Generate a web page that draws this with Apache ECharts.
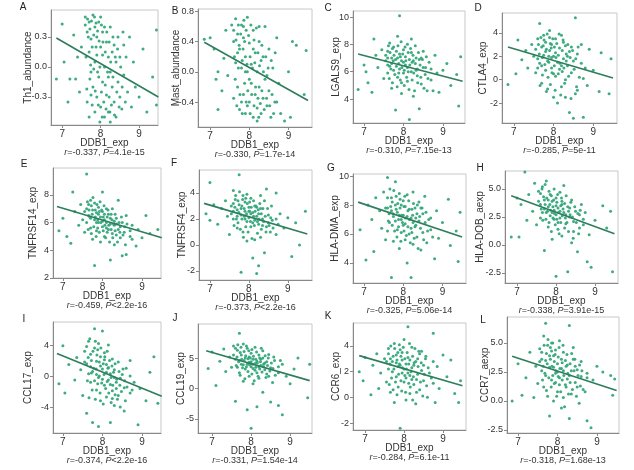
<!DOCTYPE html>
<html>
<head>
<meta charset="utf-8">
<script src="https://cdn.jsdelivr.net/npm/echarts@6/dist/echarts.min.js"></script>
<style>
body{margin:0;background:#fff}
#main{width:634px;height:470px}
</style>
</head>
<body>
<div id="main"></div>
<script>
// panel labels and axis names
var letters = ['A','B','C','D','E','F','G','H','I','J','K','L'];
var yNames = ['Th1_abundance','Mast_abundance','LGALS9_exp','CTLA4_exp','TNFRSF14_exp','TNFRSF4_exp',
    'HLA-DMA_exp','HLA-DOB_aexp','CCL17_exp','CCL19_exp','CCR6_exp','CCR7_aexp'];
var xName = 'DDB1_exp';
var rValues = ['-0.337','-0.330','-0.310','-0.285','-0.459','-0.373','-0.325','-0.338','-0.374','-0.331','-0.284','-0.318'];
var pValues = ['=4.1e-15','=1.7e-14','=7.15e-13','=5e-11','<2.2e-16','<2.2e-16','=5.06e-14','=3.91e-15','<2.2e-16','=1.54e-14','=6.1e-11','=1.68e-13'];

// tick labels
var xTicks = ['7','8','9'];
var yTicks = [
    ['-0.3','0.0','0.3'],
    ['-0.4','0.0','0.4','0.8'],
    ['4','6','8','10'],
    ['-2','0','2','4'],
    ['2','4','6','8'],
    ['-2','0','2','4'],
    ['4','6','8','10'],
    ['-2.5','0.0','2.5','5.0'],
    ['-4','0','4'],
    ['-5','0','5'],
    ['-2','0','2','4'],
    ['-2.5','0.0','2.5','5.0']
];

// scatter values: spread points and the dense core
var th1 = [[6.85,-0.12],[7.0,0.43],[7.05,0.05],[7.15,-0.35],[7.2,-0.12],[7.3,0.32],[7.35,-0.12],[7.4,0.1],[7.45,-0.25],[7.5,0.2],
    [7.6,0.5],[7.65,0.35],[7.7,0.45],[7.7,0.15],[7.75,-0.05],[7.75,0.28],[7.8,0.52],[7.8,-0.2],[7.85,0.4],[7.85,0.05],
    [7.9,0.3],[7.9,-0.3],[7.95,0.45],[7.95,-0.1],[8.0,0.2],[8.0,-0.4],[8.05,0.35],[8.05,-0.15],[8.1,0.0],[8.1,-0.5],
    [8.15,0.25],[8.15,-0.28],[8.2,0.1],[8.2,-0.45],[8.25,0.4],[8.25,-0.05],[8.3,-0.2],[8.3,0.15],[8.35,-0.35],[8.4,0.05],
    [8.4,-0.5],[8.45,0.3],[8.45,-0.15],[8.5,-0.3],[8.5,0.1],[8.55,-0.42],[8.6,0.22],[8.6,-0.08],[8.7,-0.25],[8.75,0.3],
    [8.8,-0.4],[8.85,0.05],[8.9,-0.2],[9.0,-0.3],[9.1,0.18],[9.2,-0.45],[9.35,-0.1],[9.45,0.37],[9.45,-0.38],[7.65,-0.35],
    [7.7,-0.5],[7.85,-0.45],[8.0,0.5],[8.1,0.4],[7.9,0.12],[8.05,0.12],[8.2,-0.1],[8.35,0.22],[7.75,-0.28],[8.25,-0.55]];
var th1Core = [[7.6,0.42],[7.62,0.1],[7.64,-0.22],[7.66,0.48],[7.68,0.3],[7.72,0.38],[7.72,-0.12],[7.74,0.02],[7.76,0.46],[7.78,0.2],
    [7.78,-0.38],[7.82,0.32],[7.82,-0.02],[7.84,0.5],[7.86,-0.24],[7.88,0.2],[7.88,0.44],[7.92,-0.05],[7.92,0.36],[7.94,-0.38],
    [7.96,0.26],[7.98,0.0],[8.02,-0.25],[8.02,0.42],[8.04,-0.5],[8.06,0.25],[8.08,-0.35],[8.12,0.15],[8.12,-0.18],[8.14,-0.42],
    [8.16,0.35],[8.18,-0.05],[8.22,-0.3],[8.22,0.25],[8.24,-0.45],[8.26,0.05],[8.28,-0.38],[8.32,0.3],[8.32,-0.1],[8.36,-0.48],
    [8.38,0.1],[8.42,-0.25],[8.44,0.18],[8.48,-0.4],[8.52,0.0],[8.56,-0.2],[8.58,0.35],[8.64,-0.35],[8.66,0.1],[7.98,-0.55]];
var mast = [[6.85,0.43],[7.0,0.45],[7.1,0.3],[7.15,-0.1],[7.2,0.0],[7.2,-0.5],[7.3,-0.25],[7.35,0.18],[7.4,0.55],[7.45,-0.05],
    [7.55,0.62],[7.6,0.4],[7.6,-0.35],[7.65,0.7],[7.65,0.12],[7.7,0.5],[7.7,-0.2],[7.75,0.3],[7.75,-0.5],[7.8,0.62],
    [7.8,0.05],[7.85,0.45],[7.85,-0.3],[7.9,0.2],[7.9,-0.55],[7.95,0.72],[7.95,0.0],[8.0,0.38],[8.0,-0.4],[8.05,0.1],
    [8.05,-0.15],[8.1,0.55],[8.1,-0.6],[8.15,0.25],[8.15,-0.3],[8.2,0.0],[8.2,-0.48],[8.25,0.4],[8.25,-0.2],[8.3,-0.55],
    [8.3,0.15],[8.35,-0.35],[8.4,0.6],[8.4,-0.1],[8.45,-0.45],[8.5,0.3],[8.5,-0.25],[8.55,-0.6],[8.6,0.05],[8.65,-0.4],
    [8.7,0.45],[8.75,-0.15],[8.8,-0.55],[8.9,-0.65],[9.0,0.0],[9.05,-0.6],[9.1,0.4],[9.2,0.35],[9.4,-0.3],[9.45,0.28],
    [7.7,0.25],[7.85,0.6],[8.0,-0.1],[8.1,0.3],[8.2,-0.65],[8.35,0.2],[7.95,-0.45],[8.45,-0.05],[7.8,-0.4],[8.25,0.6]];
var mastCore = [[7.6,0.55],[7.62,0.2],[7.64,-0.1],[7.66,0.42],[7.68,-0.45],[7.72,0.62],[7.72,0.05],[7.74,0.35],[7.76,-0.3],[7.78,0.5],
    [7.82,0.15],[7.82,-0.55],[7.84,0.3],[7.86,0.68],[7.88,-0.15],[7.88,0.4],[7.92,0.55],[7.92,-0.4],[7.94,0.1],[7.96,-0.25],
    [7.98,0.48],[8.02,0.2],[8.02,-0.55],[8.04,0.62],[8.06,-0.3],[8.08,0.05],[8.12,-0.45],[8.12,0.42],[8.14,0.12],[8.16,-0.2],
    [8.18,0.58],[8.22,-0.35],[8.22,0.25],[8.24,-0.6],[8.26,0.08],[8.28,-0.42],[8.32,0.35],[8.32,-0.25],[8.36,0.0],[8.38,-0.5],
    [8.42,0.2],[8.44,-0.35],[8.48,0.05],[8.52,-0.45],[8.56,0.15],[8.58,-0.3],[8.62,-0.55],[8.66,0.25],[8.7,-0.4],[7.9,0.0]];
var lgals9 = [[6.85,4.7],[7.0,6.5],[7.05,6.0],[7.1,5.2],[7.2,4.5],[7.25,8.4],[7.3,7.2],[7.35,6.3],[7.45,7.6],[7.5,5.5],
    [7.55,6.8],[7.6,7.5],[7.6,5.9],[7.65,8.1],[7.65,6.4],[7.7,7.0],[7.7,4.8],[7.75,7.8],[7.75,6.1],[7.8,6.9],
    [7.8,3.2],[7.85,8.6],[7.85,5.6],[7.9,10.1],[7.9,7.3],[7.9,6.2],[7.95,6.8],[7.95,4.4],[8.0,7.6],[8.0,5.9],
    [8.05,7.1],[8.05,6.5],[8.1,8.0],[8.1,5.3],[8.15,6.9],[8.15,2.5],[8.2,7.4],[8.2,6.0],[8.25,4.2],[8.3,6.6],
    [8.3,7.9],[8.35,5.7],[8.4,3.3],[8.4,6.9],[8.45,5.1],[8.5,6.3],[8.5,7.5],[8.55,5.8],[8.6,4.6],[8.65,6.7],
    [8.7,5.4],[8.8,7.2],[8.85,5.9],[8.9,4.5],[9.0,6.1],[9.1,6.6],[9.2,5.0],[9.35,5.8],[9.4,3.5],[9.45,7.1],
    [7.7,6.6],[7.85,7.0],[8.0,6.7],[8.1,6.3],[8.25,6.8],[7.95,5.2],[8.35,6.2],[7.6,7.0],[8.2,8.4],[8.45,7.0]];
var lgals9Core = [[7.55,7.2],[7.6,6.5],[7.62,7.9],[7.64,5.5],[7.66,7.4],[7.68,6.2],[7.72,7.7],[7.72,5.2],[7.74,6.8],[7.76,7.2],
    [7.78,5.8],[7.82,7.5],[7.82,6.4],[7.84,4.9],[7.86,7.9],[7.88,6.6],[7.88,5.9],[7.92,7.1],[7.92,5.4],[7.94,8.2],
    [7.96,6.3],[7.98,7.3],[8.02,6.1],[8.02,5.0],[8.04,7.8],[8.06,6.8],[8.08,5.6],[8.12,7.4],[8.12,6.0],[8.14,4.7],
    [8.16,6.5],[8.18,7.7],[8.22,5.4],[8.22,6.7],[8.24,7.2],[8.26,5.9],[8.28,4.6],[8.32,7.0],[8.32,6.1],[8.36,5.2],
    [8.38,7.4],[8.42,6.5],[8.44,5.6],[8.48,6.9],[8.52,4.8],[8.56,6.3],[8.58,7.1],[8.62,5.5],[8.7,6.2],[8.75,4.6]];
var ctla4 = [[6.85,-0.4],[7.05,0.5],[7.1,3.4],[7.2,1.7],[7.3,2.5],[7.35,1.0],[7.45,3.0],[7.5,2.0],[7.55,0.6],[7.6,3.5],
    [7.65,4.8],[7.65,1.4],[7.7,2.8],[7.7,-0.3],[7.75,3.8],[7.75,2.1],[7.8,0.8],[7.8,3.2],[7.85,1.6],[7.85,-0.8],
    [7.9,2.5],[7.9,4.2],[7.95,1.0],[7.95,3.0],[8.0,2.0],[8.0,-1.5],[8.05,3.5],[8.05,0.3],[8.1,1.5],[8.1,-2.0],
    [8.15,2.7],[8.15,0.9],[8.2,3.8],[8.2,-0.6],[8.25,1.8],[8.3,2.9],[8.3,0.0],[8.35,1.2],[8.4,-2.8],[8.4,2.4],
    [8.45,0.6],[8.5,-3.3],[8.5,1.6],[8.55,5.3],[8.55,-1.2],[8.6,2.2],[8.65,0.2],[8.7,3.0],[8.75,-3.2],[8.8,1.0],
    [8.85,-0.5],[8.9,2.6],[9.0,0.8],[9.15,-1.0],[9.2,2.3],[9.4,-1.2],[9.45,1.8],[7.6,1.8],[7.8,2.4],[7.95,1.9],
    [8.05,2.3],[8.25,3.2],[8.35,2.0],[7.7,1.2],[8.45,2.8],[8.0,0.5],[8.2,1.2],[7.9,3.6],[8.6,-0.9],[8.3,-1.5]];
var ctla4Core = [[7.55,2.6],[7.6,1.0],[7.62,3.0],[7.64,2.2],[7.66,-0.5],[7.68,3.6],[7.72,1.9],[7.72,0.4],[7.74,2.9],[7.76,3.4],
    [7.78,1.3],[7.82,2.6],[7.82,-1.0],[7.84,3.9],[7.86,0.2],[7.88,2.0],[7.88,1.5],[7.92,3.1],[7.92,-0.4],[7.94,2.7],
    [7.96,0.6],[7.98,3.5],[8.02,1.2],[8.02,2.8],[8.04,-0.9],[8.06,1.9],[8.08,3.1],[8.12,0.5],[8.12,2.1],[8.14,3.9],
    [8.16,1.4],[8.18,-1.3],[8.22,2.5],[8.22,0.7],[8.24,3.4],[8.26,1.0],[8.28,-0.3],[8.32,2.2],[8.32,1.6],[8.36,3.0],
    [8.38,0.3],[8.42,1.9],[8.44,-1.6],[8.48,2.5],[8.52,0.9],[8.56,1.8],[8.58,-0.6],[8.62,2.8],[8.7,1.4],[8.75,0.1]];
var tnfrsf14 = [[6.9,5.4],[7.0,6.3],[7.1,5.0],[7.2,4.5],[7.25,8.2],[7.3,6.8],[7.4,5.8],[7.45,7.3],[7.5,6.2],[7.55,5.3],
    [7.6,9.5],[7.6,7.0],[7.65,6.5],[7.7,7.6],[7.7,5.6],[7.75,6.9],[7.75,4.8],[7.8,7.4],[7.8,6.2],[7.8,2.9],
    [7.85,6.7],[7.85,5.4],[7.9,7.1],[7.9,6.0],[7.95,6.4],[7.95,4.6],[8.0,8.2],[8.0,6.8],[8.0,5.7],[8.05,6.2],
    [8.05,5.0],[8.1,7.0],[8.1,6.0],[8.15,5.5],[8.15,6.6],[8.2,3.3],[8.2,6.3],[8.25,5.2],[8.25,7.0],[8.3,5.8],
    [8.3,4.4],[8.35,6.3],[8.4,5.5],[8.4,7.6],[8.45,4.9],[8.5,3.6],[8.5,6.0],[8.55,5.3],[8.6,3.7],[8.6,6.5],
    [8.7,5.0],[8.75,5.8],[8.85,4.3],[8.9,5.5],[9.0,4.9],[9.1,6.5],[9.2,5.2],[9.4,5.5],[9.5,2.4],[7.7,6.3],
    [7.9,6.6],[8.0,6.1],[8.1,5.6],[8.2,5.9],[8.3,6.1],[8.35,5.1],[7.85,6.0],[8.05,6.6],[7.65,7.3],[8.45,5.7]];
var tnfrsf14Core = [[7.55,6.8],[7.6,6.0],[7.62,7.5],[7.64,5.5],[7.66,6.9],[7.68,6.4],[7.72,7.2],[7.72,5.2],[7.74,6.6],[7.76,7.8],
    [7.78,5.7],[7.82,6.9],[7.82,6.4],[7.84,5.0],[7.86,7.3],[7.88,6.2],[7.88,5.6],[7.92,6.8],[7.92,5.3],[7.94,7.5],
    [7.96,6.0],[7.98,6.9],[8.02,5.4],[8.02,6.4],[8.04,7.2],[8.06,5.8],[8.08,4.9],[8.12,6.4],[8.12,5.3],[8.14,6.9],
    [8.16,5.8],[8.18,4.6],[8.22,6.6],[8.22,5.5],[8.24,6.2],[8.26,4.9],[8.28,5.9],[8.32,6.6],[8.32,5.4],[8.36,5.9],
    [8.38,4.6],[8.42,6.0],[8.44,5.3],[8.48,6.4],[8.52,5.1],[8.56,5.7],[8.58,4.4],[8.62,5.9],[8.7,5.4],[8.75,4.8]];
var tnfrsf4 = [[6.9,2.4],[7.0,4.8],[7.0,1.9],[7.1,3.1],[7.2,1.6],[7.3,2.8],[7.4,3.4],[7.45,2.2],[7.5,0.8],[7.55,3.0],
    [7.6,4.2],[7.6,2.0],[7.65,3.5],[7.7,1.3],[7.7,2.7],[7.75,5.4],[7.75,3.1],[7.8,-2.1],[7.8,2.3],[7.85,3.8],
    [7.85,1.0],[7.9,2.6],[7.9,3.3],[7.95,1.8],[7.95,0.3],[8.0,2.9],[8.0,2.1],[8.05,3.6],[8.05,1.4],[8.1,-1.0],
    [8.1,2.5],[8.15,1.9],[8.15,3.0],[8.2,-2.2],[8.2,2.2],[8.25,-1.6],[8.25,1.6],[8.3,2.8],[8.3,0.6],[8.35,2.0],
    [8.4,-0.6],[8.4,3.4],[8.45,4.3],[8.45,1.4],[8.5,2.3],[8.55,1.0],[8.6,1.9],[8.7,4.0],[8.7,0.8],[8.8,2.4],
    [8.9,1.3],[9.0,2.1],[9.1,-0.9],[9.2,1.7],[9.3,0.0],[9.45,2.6],[7.7,2.2],[7.9,2.0],[8.0,2.6],[8.1,1.7],
    [8.2,2.9],[8.35,1.5],[7.8,2.8],[8.05,2.4],[8.25,2.4],[7.6,2.6],[8.5,1.7],[7.95,3.9],[8.3,3.8],[8.15,0.4]];
var tnfrsf4Core = [[7.55,2.4],[7.6,3.2],[7.62,1.5],[7.64,2.9],[7.66,3.8],[7.68,2.0],[7.72,3.4],[7.72,1.7],[7.74,2.5],[7.76,4.1],
    [7.78,1.2],[7.82,3.0],[7.82,2.0],[7.84,3.5],[7.86,0.6],[7.88,2.8],[7.88,2.2],[7.92,3.6],[7.92,1.4],[7.94,2.4],
    [7.96,3.2],[7.98,1.0],[8.02,2.6],[8.02,3.3],[8.04,1.8],[8.06,2.9],[8.08,0.5],[8.12,2.2],[8.12,3.4],[8.14,1.5],
    [8.16,2.6],[8.18,3.0],[8.22,1.8],[8.22,0.9],[8.24,2.7],[8.26,2.0],[8.28,3.2],[8.32,1.2],[8.32,2.4],[8.36,2.8],
    [8.38,1.8],[8.42,2.2],[8.44,1.0],[8.48,2.8],[8.52,1.5],[8.56,2.1],[8.58,3.0],[8.62,1.3],[8.7,2.0],[8.75,1.6]];
var hladma = [[6.9,6.3],[7.05,4.2],[7.1,8.0],[7.2,7.0],[7.25,4.8],[7.3,8.5],[7.4,7.6],[7.45,6.4],[7.5,8.9],[7.55,5.6],
    [7.6,9.9],[7.6,7.8],[7.65,6.8],[7.7,8.5],[7.7,3.0],[7.75,7.2],[7.75,5.5],[7.8,9.6],[7.8,8.0],[7.85,6.3],
    [7.85,7.5],[7.9,8.8],[7.9,5.0],[7.95,7.0],[7.95,6.1],[8.0,8.3],[8.0,7.3],[8.05,5.6],[8.05,6.7],[8.1,8.7],
    [8.1,4.0],[8.15,7.7],[8.15,6.0],[8.2,3.0],[8.2,7.1],[8.25,8.9],[8.25,5.3],[8.3,6.5],[8.3,7.8],[8.35,5.8],
    [8.4,8.2],[8.4,6.9],[8.45,4.9],[8.5,7.4],[8.5,6.1],[8.55,8.6],[8.6,5.4],[8.65,7.0],[8.7,6.3],[8.8,4.3],
    [8.85,7.6],[8.9,5.7],[9.0,6.8],[9.15,8.4],[9.2,5.2],[9.35,6.2],[9.4,4.1],[9.45,7.5],[7.7,7.6],[7.9,7.3],
    [8.0,6.6],[8.1,7.2],[8.2,6.4],[8.35,7.4],[7.8,6.9],[8.05,7.9],[8.25,6.8],[7.6,6.2],[8.45,7.8],[7.95,8.0]];
var hladmaCore = [[7.55,7.8],[7.6,8.5],[7.62,6.9],[7.64,7.4],[7.66,9.1],[7.68,7.9],[7.72,6.6],[7.72,8.2],[7.74,7.4],[7.76,9.0],
    [7.78,6.2],[7.82,7.7],[7.82,8.6],[7.84,5.8],[7.86,8.1],[7.88,7.0],[7.88,6.5],[7.92,7.8],[7.92,8.4],[7.94,5.5],
    [7.96,7.3],[7.98,6.8],[8.02,7.9],[8.02,6.2],[8.04,8.6],[8.06,7.1],[8.08,5.9],[8.12,7.6],[8.12,6.5],[8.14,8.3],
    [8.16,7.0],[8.18,5.4],[8.22,7.7],[8.22,6.1],[8.24,7.3],[8.26,8.1],[8.28,5.7],[8.32,7.1],[8.32,6.6],[8.36,8.0],
    [8.38,5.0],[8.42,7.2],[8.44,6.4],[8.48,7.8],[8.52,5.6],[8.56,6.8],[8.58,7.5],[8.62,6.2],[8.7,7.1],[8.75,5.8]];
var hladob = [[6.85,0.7],[7.0,4.2],[7.05,0.7],[7.1,3.6],[7.2,6.5],[7.25,2.2],[7.3,4.5],[7.4,3.0],[7.45,5.5],[7.5,1.8],
    [7.55,4.8],[7.6,3.6],[7.6,2.4],[7.65,5.2],[7.7,-0.5],[7.7,4.0],[7.75,2.9],[7.75,5.7],[7.8,3.4],[7.8,1.6],
    [7.85,4.5],[7.85,2.6],[7.9,3.9],[7.9,0.5],[7.95,3.1],[7.95,5.0],[8.0,-2.8],[8.0,2.7],[8.0,4.2],[8.05,3.3],
    [8.05,1.4],[8.1,2.4],[8.1,4.7],[8.15,3.6],[8.15,0.8],[8.2,2.9],[8.2,5.3],[8.25,1.9],[8.3,-2.4],[8.3,3.4],
    [8.35,2.5],[8.4,0.2],[8.4,4.0],[8.45,2.1],[8.5,3.0],[8.55,-0.6],[8.6,1.5],[8.65,3.6],[8.7,2.3],[8.8,-1.5],
    [8.85,0.9],[8.9,-2.0],[9.0,2.2],[9.2,3.5],[9.3,1.5],[9.4,3.0],[9.45,-2.4],[7.7,3.2],[7.9,2.9],[8.0,3.5],
    [8.1,3.0],[8.25,2.7],[7.8,4.0],[8.05,2.0],[8.35,3.3],[7.65,2.9],[8.45,1.2],[8.15,3.9],[7.95,2.3],[8.6,2.7]];
var hladobCore = [[7.55,3.9],[7.6,4.6],[7.62,3.2],[7.64,5.0],[7.66,2.2],[7.68,4.3],[7.72,3.6],[7.72,5.4],[7.74,2.3],[7.76,4.2],
    [7.78,3.0],[7.82,4.8],[7.82,2.0],[7.84,3.6],[7.86,3.1],[7.88,4.4],[7.88,1.2],[7.92,3.4],[7.92,2.4],[7.94,4.0],
    [7.96,2.8],[7.98,1.8],[8.02,3.8],[8.02,2.3],[8.04,4.5],[8.06,2.9],[8.08,1.0],[8.12,3.5],[8.12,2.0],[8.14,4.2],
    [8.16,2.6],[8.18,3.2],[8.22,1.5],[8.22,3.7],[8.24,2.4],[8.26,4.4],[8.28,2.0],[8.32,3.0],[8.32,1.2],[8.36,2.7],
    [8.38,3.8],[8.42,2.5],[8.44,0.6],[8.48,3.4],[8.52,2.0],[8.56,2.8],[8.58,1.0],[8.62,3.1],[8.7,1.8],[8.75,2.9]];
var ccl17 = [[6.9,-1.0],[7.0,3.9],[7.05,-2.2],[7.15,1.5],[7.3,-0.5],[7.35,2.4],[7.45,0.8],[7.5,-2.5],[7.55,3.2],[7.6,-4.8],
    [7.6,1.6],[7.65,4.5],[7.7,-0.8],[7.7,2.8],[7.75,-6.0],[7.75,0.6],[7.8,6.1],[7.8,3.6],[7.85,-1.8],[7.85,1.9],
    [7.9,-6.5],[7.9,4.2],[7.9,-0.2],[7.95,2.5],[7.95,-3.2],[8.0,5.8],[8.0,0.9],[8.05,-1.2],[8.05,3.0],[8.1,-2.7],
    [8.1,1.5],[8.15,-0.5],[8.15,4.0],[8.2,-6.0],[8.2,0.3],[8.25,-1.9],[8.25,2.2],[8.3,-3.8],[8.3,0.8],[8.35,-0.8],
    [8.4,1.8],[8.4,-2.5],[8.45,-4.0],[8.5,0.2],[8.55,-4.5],[8.55,-1.5],[8.6,1.0],[8.7,2.0],[8.7,-2.2],[8.8,-0.8],
    [8.9,-6.3],[8.95,-1.6],[9.1,-3.2],[9.2,0.5],[9.3,2.5],[9.4,-3.5],[7.7,1.2],[7.85,0.2],[8.0,-0.4],[8.1,0.5],
    [8.2,-1.1],[8.3,-0.2],[7.95,1.3],[8.15,1.1],[7.8,-0.6],[8.35,-1.6],[8.05,2.1],[7.65,0.3],[8.45,-0.3],[8.25,-2.9]];
var ccl17Core = [[7.55,1.8],[7.6,3.8],[7.62,-0.6],[7.64,2.4],[7.66,-2.8],[7.68,4.8],[7.72,0.4],[7.72,2.0],[7.74,-1.8],[7.76,3.2],
    [7.78,1.0],[7.82,-3.0],[7.82,4.5],[7.84,0.9],[7.86,2.7],[7.88,-1.0],[7.88,3.4],[7.92,0.0],[7.92,1.8],[7.94,-2.2],
    [7.96,3.6],[7.98,-0.9],[8.02,1.6],[8.02,-3.6],[8.04,0.2],[8.06,2.5],[8.08,-1.6],[8.12,3.2],[8.12,-0.7],[8.14,1.0],
    [8.16,-2.2],[8.18,2.0],[8.22,-0.2],[8.22,-3.4],[8.24,1.3],[8.26,-1.2],[8.28,0.5],[8.32,-2.4],[8.32,1.6],[8.36,-0.4],
    [8.38,-3.0],[8.42,0.6],[8.44,-1.2],[8.48,-2.0],[8.52,0.9],[8.56,-0.6],[8.58,-3.2],[8.62,-1.4],[8.7,0.0],[8.75,-1.8]];
var ccl19 = [[6.9,3.3],[7.0,6.0],[7.1,0.5],[7.2,4.5],[7.3,6.5],[7.35,2.8],[7.45,5.2],[7.5,3.5],[7.55,7.0],[7.6,-2.1],
    [7.6,4.8],[7.65,6.3],[7.7,9.1],[7.7,2.6],[7.75,5.5],[7.75,4.0],[7.8,7.3],[7.8,1.2],[7.85,5.0],[7.85,3.2],
    [7.9,-3.5],[7.9,6.6],[7.95,4.3],[7.95,2.0],[8.0,-6.5],[8.0,5.8],[8.0,3.6],[8.05,4.8],[8.05,0.8],[8.1,6.8],
    [8.1,3.0],[8.15,-3.0],[8.15,4.5],[8.2,5.5],[8.2,1.7],[8.25,3.8],[8.3,6.2],[8.3,-0.6],[8.35,4.2],[8.4,2.4],
    [8.45,5.6],[8.5,-2.2],[8.5,3.4],[8.55,1.0],[8.6,4.6],[8.7,-2.8],[8.7,2.6],[8.8,-4.3],[8.8,4.0],[8.9,2.0],
    [9.0,0.8],[9.1,3.2],[9.2,5.0],[9.45,-1.5],[9.5,4.0],[7.7,4.6],[7.9,4.0],[8.0,4.4],[8.1,4.1],[8.2,3.6],
    [8.25,4.8],[8.35,3.1],[7.8,3.9],[8.05,3.3],[7.95,5.2],[8.15,2.6],[8.4,4.4],[7.65,3.5],[8.45,2.0],[8.3,5.0]];
var ccl19Core = [[7.55,5.5],[7.6,6.6],[7.62,3.8],[7.64,5.2],[7.66,7.2],[7.68,4.4],[7.72,5.9],[7.72,2.2],[7.74,6.8],[7.76,4.8],
    [7.78,3.4],[7.82,6.1],[7.82,4.6],[7.84,1.6],[7.86,5.4],[7.88,3.6],[7.88,7.0],[7.92,4.9],[7.92,2.8],[7.94,6.2],
    [7.96,3.9],[7.98,5.0],[8.02,2.4],[8.02,6.4],[8.04,4.0],[8.06,5.3],[8.08,1.3],[8.12,4.8],[8.12,3.5],[8.14,6.0],
    [8.16,4.2],[8.18,2.0],[8.22,5.0],[8.22,3.2],[8.24,4.4],[8.26,6.6],[8.28,2.7],[8.32,4.0],[8.32,3.6],[8.36,5.4],
    [8.38,1.8],[8.42,3.8],[8.44,5.0],[8.48,2.9],[8.52,4.2],[8.56,3.3],[8.58,5.2],[8.62,2.2],[8.7,3.6],[8.75,4.6]];
var ccr6 = [[6.85,2.0],[6.95,1.3],[7.0,3.1],[7.15,0.2],[7.2,2.5],[7.3,3.4],[7.35,0.7],[7.4,1.9],[7.5,3.0],[7.55,1.2],
    [7.6,3.8],[7.6,2.2],[7.65,0.4],[7.7,2.8],[7.75,-0.4],[7.75,4.2],[7.8,1.6],[7.8,3.3],[7.85,2.4],[7.85,0.8],
    [7.9,-2.4],[7.9,3.7],[7.95,1.9],[7.95,2.9],[8.0,4.5],[8.0,1.2],[8.05,2.6],[8.05,-0.2],[8.1,5.5],[8.1,3.1],
    [8.15,1.7],[8.15,0.3],[8.2,2.3],[8.2,3.9],[8.25,1.0],[8.3,2.8],[8.3,-0.5],[8.35,1.8],[8.4,3.4],[8.4,0.6],
    [8.45,2.1],[8.5,1.3],[8.55,3.0],[8.6,0.0],[8.65,1.9],[8.75,5.0],[8.75,1.1],[8.8,-0.4],[8.85,2.4],[8.9,0.7],
    [9.0,3.3],[9.1,1.6],[9.2,2.9],[9.3,0.3],[9.4,-0.4],[9.45,1.3],[7.7,2.0],[7.9,2.5],[8.0,2.2],[8.1,1.9],
    [8.25,2.5],[8.35,3.0],[7.8,2.7],[8.05,1.5],[8.2,1.4],[7.65,3.0],[8.45,3.6],[7.95,3.5],[8.5,2.5],[8.15,2.9]];
var ccr6Core = [[7.55,2.8],[7.6,3.4],[7.62,1.0],[7.64,2.6],[7.66,4.0],[7.68,1.5],[7.72,3.2],[7.72,0.6],[7.74,2.2],[7.76,3.8],
    [7.78,1.2],[7.82,2.9],[7.82,0.2],[7.84,3.5],[7.86,1.8],[7.88,4.1],[7.88,2.6],[7.92,1.3],[7.92,3.2],[7.94,0.5],
    [7.96,2.3],[7.98,3.9],[8.02,1.7],[8.02,3.0],[8.04,0.4],[8.06,2.2],[8.08,3.5],[8.12,1.1],[8.12,2.6],[8.14,4.2],
    [8.16,0.8],[8.18,2.0],[8.22,3.2],[8.22,-0.2],[8.24,1.6],[8.26,2.7],[8.28,3.8],[8.32,1.4],[8.32,0.4],[8.36,2.4],
    [8.38,3.6],[8.42,1.2],[8.44,2.7],[8.48,0.1],[8.52,1.8],[8.56,3.2],[8.58,0.9],[8.62,2.3],[8.7,1.5],[8.75,2.8]];
var ccr7 = [[6.85,0.0],[7.0,3.2],[7.1,0.5],[7.2,2.0],[7.3,4.2],[7.4,0.3],[7.45,3.0],[7.5,1.5],[7.55,4.5],[7.6,2.6],
    [7.65,5.6],[7.65,1.2],[7.7,6.7],[7.7,3.5],[7.75,0.4],[7.75,4.8],[7.8,-1.3],[7.8,2.9],[7.85,5.0],[7.85,1.8],
    [7.9,3.9],[7.9,0.0],[7.95,2.4],[7.95,4.4],[8.0,3.2],[8.0,0.8],[8.05,5.2],[8.05,2.0],[8.1,3.6],[8.1,-0.6],
    [8.15,2.6],[8.15,4.2],[8.2,1.4],[8.25,3.1],[8.3,6.5],[8.3,-1.5],[8.3,2.2],[8.35,0.6],[8.4,3.6],[8.45,1.6],
    [8.5,2.7],[8.55,-0.2],[8.6,3.4],[8.65,1.0],[8.75,-1.7],[8.75,2.4],[8.85,-2.3],[8.9,1.8],[9.0,3.0],[9.15,2.5],
    [9.35,2.2],[9.4,0.5],[9.45,1.9],[7.7,2.2],[7.9,2.9],[8.0,2.5],[8.1,2.8],[8.2,3.5],[8.35,2.6],[7.8,3.9],
    [8.05,1.4],[8.25,1.9],[7.6,3.6],[8.45,3.0],[7.95,1.6],[8.15,0.3],[8.5,1.2],[7.85,4.3],[8.4,4.6],[8.6,2.1]];
var ccr7Core = [[7.55,3.4],[7.6,4.2],[7.62,1.8],[7.64,3.0],[7.66,4.8],[7.68,2.4],[7.72,4.1],[7.72,0.9],[7.74,3.2],[7.76,5.3],
    [7.78,2.0],[7.82,3.6],[7.82,4.6],[7.84,1.2],[7.86,3.0],[7.88,2.2],[7.88,5.0],[7.92,3.4],[7.92,1.5],[7.94,4.0],
    [7.96,2.6],[7.98,0.4],[8.02,3.8],[8.02,2.1],[8.04,4.6],[8.06,2.8],[8.08,0.8],[8.12,3.3],[8.12,1.8],[8.14,4.8],
    [8.16,2.2],[8.18,-0.5],[8.22,3.0],[8.22,1.2],[8.24,4.0],[8.26,2.4],[8.28,0.6],[8.32,3.2],[8.32,1.6],[8.36,4.1],
    [8.38,1.0],[8.42,2.6],[8.44,3.6],[8.48,0.4],[8.52,2.2],[8.56,3.1],[8.58,1.3],[8.62,2.6],[8.7,0.8],[8.75,2.0]];

var points = [th1.concat(th1Core), mast.concat(mastCore), lgals9.concat(lgals9Core), ctla4.concat(ctla4Core),
    tnfrsf14.concat(tnfrsf14Core), tnfrsf4.concat(tnfrsf4Core), hladma.concat(hladmaCore), hladob.concat(hladobCore),
    ccl17.concat(ccl17Core), ccl19.concat(ccl19Core), ccr6.concat(ccr6Core), ccr7.concat(ccr7Core)];

// fitted line end points
var fits = [
    [[6.85,0.29],[9.5,-0.30]],
    [[6.85,0.39],[9.5,-0.38]],
    [[6.85,7.3],[9.5,5.3]],
    [[6.85,2.8],[9.5,0.15]],
    [[6.85,7.15],[9.5,4.9]],
    [[6.85,3.2],[9.5,0.85]],
    [[6.85,8.2],[9.5,5.8]],
    [[6.85,4.4],[9.5,1.0]],
    [[6.85,2.9],[9.5,-2.6]],
    [[6.85,6.2],[9.5,1.3]],
    [[6.85,3.25],[9.5,0.9]],
    [[6.85,3.85],[9.5,0.9]]
];

// layout: [left, top, width, height] of each plot box
var boxes = [[51,10,107,115],[198,9,114,118],[353,11,112,112],[502,13,115,110],
    [53,168,108,110],[199,170,113,110],[353,174,113,109],[505,171,113,112],
    [53,322,108,111],[198,324,114,109],[353,323,113,107],[507,317,112,116]];
var xRanges = [[6.71,9.49],[6.69,9.6],[6.72,9.56],[6.7,9.6],[6.75,9.48],[6.72,9.62],
    [6.72,9.6],[6.69,9.59],[6.75,9.48],[6.64,9.56],[6.69,9.59],[6.72,9.56]];
var yRanges = [[-0.58,0.57],[-0.73,0.83],[2.25,10.44],[-3.7,5.7],[2,9.93],[-2.7,5.77],
    [2.62,10.14],[-3.4,6.6],[-7.35,6.97],[-7.3,10.6],[-2.54,5.79],[-2.76,7.24]];
var yNameGaps = [18,17,12,14,15,12,13,20,20,12,12,17];
var letterPos = [[23,7],[175,11],[328,8],[478,8],[24,164],[174,163],[331,168],[480,168],[24,319],[175,318],[328,316],[483,320]];

var font = 'Liberation Sans';
var dotColor = '#35a77b';
var lineColor = '#2e7d5b';

var grids = [], xAxes = [], yAxes = [], series = [], texts = [];

for (var i = 0; i < 12; i++) {
    var b = boxes[i];
    grids.push({left: b[0], top: b[1], width: b[2], height: b[3], show: true,
        borderColor: '#c8c8c8', borderWidth: 1, backgroundColor: '#fff'});

    xAxes.push({
        type: 'value', gridIndex: i, min: xRanges[i][0], max: xRanges[i][1],
        name: '{n|' + xName + '}\n{i|r}{t|=' + rValues[i] + ', }{i|P}{t|' + pValues[i] + '}',
        nameLocation: 'middle', nameGap: 13, nameMoveOverlap: false,
        nameTextStyle: {fontFamily: font, color: '#333', rich: {
            n: {fontFamily: font, fontSize: 10, lineHeight: 10, color: '#333'},
            i: {fontFamily: font, fontSize: 9, fontStyle: 'italic', lineHeight: 9, color: '#333'},
            t: {fontFamily: font, fontSize: 9, lineHeight: 9, color: '#333'}
        }},
        axisLine: {show: true, onZero: false, lineStyle: {color: '#888', width: 1}},
        axisTick: {show: true, length: 3, customValues: xTicks.map(Number), lineStyle: {color: '#888'}},
        axisLabel: {customValues: xTicks.map(Number), margin: 4, fontSize: 10, fontFamily: font, color: '#333'},
        splitLine: {show: false}
    });

    var yt = yTicks[i];
    yAxes.push({
        type: 'value', gridIndex: i, min: yRanges[i][0], max: yRanges[i][1],
        name: yNames[i], nameLocation: 'middle', nameGap: yNameGaps[i], nameMoveOverlap: false,
        nameTextStyle: {fontFamily: font, fontSize: 10, color: '#333'},
        axisLine: {show: true, onZero: false, lineStyle: {color: '#888', width: 1}},
        axisTick: {show: true, length: 3, customValues: yt.map(Number), lineStyle: {color: '#888'}},
        axisLabel: {customValues: yt.map(Number), margin: 4, fontSize: 9, fontFamily: font, color: '#333',
            formatter: (function (labels) {
                return function (v) {
                    for (var k = 0; k < labels.length; k++) {
                        if (Math.abs(Number(labels[k]) - v) < 1e-9) return labels[k];
                    }
                    return '';
                };
            })(yt)},
        splitLine: {show: false}
    });

    series.push({
        type: 'scatter', xAxisIndex: i, yAxisIndex: i, data: points[i],
        symbolSize: 3, itemStyle: {color: dotColor, opacity: 0.95}, silent: true
    });
    series.push({
        type: 'line', xAxisIndex: i, yAxisIndex: i, data: fits[i],
        symbol: 'none', lineStyle: {color: lineColor, width: 1.6}, silent: true, z: 3
    });

    texts.push({type: 'text', x: letterPos[i][0], y: letterPos[i][1],
        style: {text: letters[i], fontFamily: font, fontSize: 10, fill: '#222', textAlign: 'center', textVerticalAlign: 'middle'}});
}

var myChart = echarts.init(document.getElementById('main'));
myChart.setOption({
    animation: false,
    backgroundColor: '#fff',
    grid: grids,
    xAxis: xAxes,
    yAxis: yAxes,
    series: series,
    graphic: texts
});
</script>
</body>
</html>
